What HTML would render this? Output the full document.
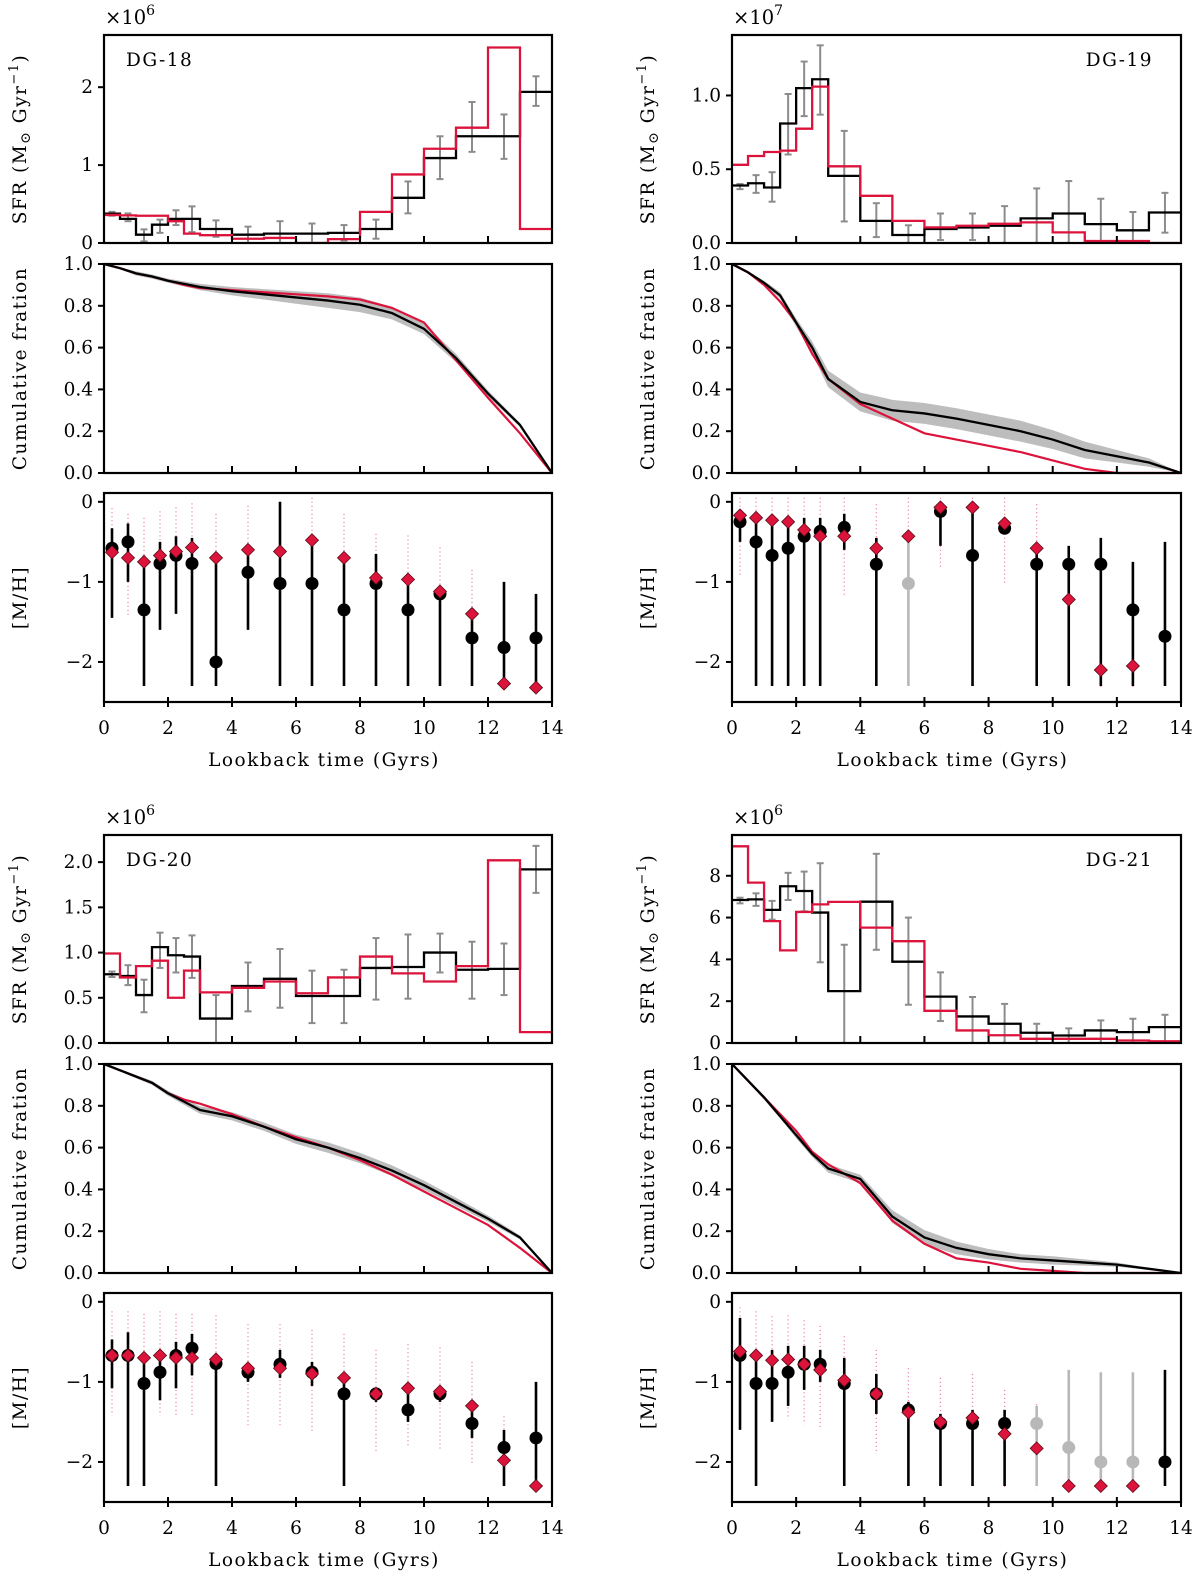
<!DOCTYPE html>
<html><head><meta charset="utf-8">
<style>
html,body{margin:0;padding:0;background:#fff;}
svg text{font-family:"DejaVu Serif","Liberation Serif",serif;fill:#000;}
.title{letter-spacing:1.5px;}
</style></head>
<body>
<svg id="fig" xmlns="http://www.w3.org/2000/svg" width="1200" height="1583" viewBox="0 0 1200 1583"></svg>
<script>
const EDGES = [0,0.5,1,1.5,2,2.5,3,4,5,6,7,8,9,10,11,12,13,14];
const CENTERS = [0.25,0.75,1.25,1.75,2.25,2.75,3.5,4.5,5.5,6.5,7.5,8.5,9.5,10.5,11.5,12.5,13.5];

// DG-18 (x1e6)
const dg18SfrBlack = [0.376,0.31,0.107,0.235,0.31,0.31,0.18,0.107,0.12,0.12,0.13,0.18,0.58,1.09,1.37,1.37,1.94];
const dg18SfrRed = [0.36,0.355,0.35,0.35,0.28,0.12,0.10,0.055,0.065,0.0,0.05,0.40,0.88,1.21,1.48,2.51,0.18];
const dg18ErrHi = [0.40,0.38,0.175,0.30,0.42,0.47,0.29,0.21,0.28,0.25,0.23,0.30,0.79,1.37,1.81,1.65,2.14];
const dg18ErrLo = [0.35,0.28,0.02,0.13,0.23,0.14,0.08,0.0,0.0,0.0,0.03,0.055,0.38,0.82,1.17,1.08,1.76];
const dg18CumBlack = [1,0.98,0.955,0.94,0.92,0.905,0.89,0.87,0.855,0.84,0.825,0.805,0.765,0.69,0.55,0.38,0.23,0];
const dg18CumRed = [1,0.98,0.955,0.94,0.92,0.90,0.885,0.875,0.865,0.855,0.845,0.83,0.79,0.72,0.54,0.36,0.19,0];
const dg18CumBand = [0,0.005,0.01,0.01,0.01,0.012,0.015,0.02,0.025,0.03,0.035,0.035,0.03,0.025,0.02,0.015,0.01,0];
const dg18MhBlack = [-0.58,-0.5,-1.35,-0.77,-0.67,-0.77,-2.0,-0.88,-1.02,-1.02,-1.35,-1.02,-1.35,-1.15,-1.7,-1.82,-1.7];
const dg18MhHi = [-0.33,-0.27,-0.67,-0.5,-0.43,-0.45,-0.75,-0.6,0.0,-0.5,-0.7,-0.65,-0.95,-1.1,-1.45,-1.0,-1.15];
const dg18MhLo = [-1.45,-1.0,-2.3,-1.6,-1.4,-2.3,-2.3,-1.6,-2.3,-2.3,-2.3,-2.3,-2.3,-2.3,-2.3,-2.3,-2.3];
const dg18MhRed = [-0.63,-0.7,-0.75,-0.67,-0.62,-0.57,-0.7,-0.6,-0.62,-0.48,-0.7,-0.95,-0.97,-1.12,-1.4,-2.27,-2.32];
const dg18MhGray = [0,0,0,0,0,0,0,0,0,0,0,0,0,0,0,0,0];

// DG-19 (x1e7)
const dg19SfrBlack = [0.39,0.405,0.376,0.81,1.05,1.11,0.455,0.15,0.054,0.095,0.105,0.117,0.167,0.20,0.128,0.086,0.207];
const dg19SfrRed = [0.53,0.59,0.617,0.626,0.775,1.06,0.52,0.32,0.15,0.106,0.117,0.13,0.14,0.072,0.013,0.013,0.0];
const dg19ErrHi = [0.40,0.46,0.48,1.01,1.23,1.34,0.76,0.27,0.12,0.20,0.20,0.25,0.37,0.42,0.30,0.21,0.34];
const dg19ErrLo = [0.365,0.34,0.28,0.60,0.86,0.87,0.146,0.04,0.0,0.02,0.02,0.0,0.0,0.0,0.0,0.0,0.07];
const dg19CumBlack = [1,0.96,0.91,0.85,0.72,0.60,0.45,0.34,0.30,0.285,0.26,0.23,0.20,0.16,0.11,0.08,0.05,0];
const dg19CumRed = [1,0.96,0.90,0.82,0.72,0.57,0.45,0.33,0.26,0.19,0.16,0.13,0.10,0.06,0.02,0,0,0];
const dg19CumBand = [0,0.005,0.01,0.015,0.02,0.03,0.04,0.045,0.05,0.05,0.05,0.05,0.05,0.045,0.04,0.03,0.02,0];
const dg19MhBlack = [-0.25,-0.5,-0.67,-0.58,-0.43,-0.37,-0.32,-0.78,-1.02,-0.12,-0.67,-0.33,-0.78,-0.78,-0.78,-1.35,-1.68];
const dg19MhHi = [-0.1,-0.2,-0.25,-0.2,-0.2,-0.2,-0.15,-0.45,-0.4,0.0,-0.1,-0.2,-0.55,-0.55,-0.45,-0.75,-0.5];
const dg19MhLo = [-0.5,-2.3,-2.3,-2.3,-2.3,-2.3,-0.6,-2.3,-2.3,-0.55,-2.3,-0.4,-2.3,-2.3,-2.3,-2.3,-2.3];
const dg19MhRed = [-0.17,-0.2,-0.23,-0.25,-0.35,-0.43,-0.43,-0.58,-0.43,-0.07,-0.07,-0.27,-0.58,-1.22,-2.1,-2.05,null];
const dg19MhGray = [0,0,0,0,0,0,0,0,1,0,0,0,0,0,0,0,0];

// DG-20 (x1e6)
const dg20SfrBlack = [0.76,0.74,0.53,1.06,0.97,0.956,0.27,0.63,0.71,0.52,0.52,0.83,0.84,1.0,0.81,0.82,1.92];
const dg20SfrRed = [0.99,0.725,0.85,0.91,0.50,0.80,0.56,0.61,0.68,0.55,0.725,0.956,0.77,0.68,0.85,2.02,0.12];
const dg20ErrHi = [0.79,0.86,0.70,1.22,1.16,1.19,0.53,0.89,1.04,0.80,0.81,1.16,1.20,1.21,1.12,1.10,2.18];
const dg20ErrLo = [0.73,0.64,0.34,0.83,0.78,0.72,0.0,0.35,0.39,0.22,0.22,0.48,0.49,0.78,0.49,0.53,1.66];
const dg20CumBlack = [1,0.97,0.94,0.91,0.86,0.82,0.78,0.75,0.70,0.64,0.60,0.55,0.49,0.42,0.34,0.26,0.17,0];
const dg20CumRed = [1,0.97,0.94,0.91,0.86,0.83,0.81,0.76,0.70,0.65,0.60,0.54,0.47,0.39,0.31,0.23,0.12,0];
const dg20CumBand = [0,0.005,0.008,0.01,0.012,0.015,0.018,0.02,0.02,0.022,0.025,0.025,0.025,0.022,0.02,0.015,0.01,0];
const dg20MhBlack = [-0.67,-0.67,-1.02,-0.88,-0.67,-0.58,-0.77,-0.88,-0.78,-0.88,-1.15,-1.15,-1.35,-1.15,-1.52,-1.82,-1.7];
const dg20MhHi = [-0.47,-0.38,-0.7,-0.7,-0.5,-0.4,-0.7,-0.8,-0.6,-0.75,-1.0,-1.1,-1.15,-1.1,-1.35,-1.6,-1.0];
const dg20MhLo = [-1.08,-2.3,-2.3,-1.23,-1.08,-0.92,-2.3,-1.0,-0.95,-1.05,-2.3,-1.25,-1.5,-1.25,-1.7,-2.3,-2.3];
const dg20MhRed = [-0.67,-0.67,-0.7,-0.67,-0.7,-0.7,-0.72,-0.83,-0.83,-0.9,-0.95,-1.15,-1.08,-1.12,-1.3,-1.98,-2.3];
const dg20MhGray = [0,0,0,0,0,0,0,0,0,0,0,0,0,0,0,0,0];

// DG-21 (x1e6)
const dg21SfrBlack = [6.84,6.87,6.37,7.5,7.27,6.24,2.48,6.76,3.89,2.22,1.27,0.92,0.49,0.36,0.6,0.52,0.76];
const dg21SfrRed = [9.41,7.67,5.83,4.43,6.27,6.63,6.75,5.52,4.87,1.54,0.6,0.37,0.2,0.2,0.2,0.12,0.08];
const dg21ErrHi = [6.95,7.16,6.8,8.14,8.2,8.6,4.7,9.05,6.0,3.38,2.2,1.87,0.92,0.7,1.08,1.16,1.35];
const dg21ErrLo = [6.68,6.56,5.9,6.84,6.3,3.86,0.0,4.46,1.83,1.05,0.0,0.0,0.0,0.0,0.0,0.0,0.0];
const dg21CumBlack = [1,0.92,0.84,0.75,0.66,0.57,0.50,0.45,0.27,0.17,0.12,0.09,0.07,0.06,0.05,0.04,0.02,0];
const dg21CumRed = [1,0.92,0.84,0.76,0.68,0.58,0.52,0.43,0.25,0.14,0.07,0.05,0.02,0.01,0,0,0,0];
const dg21CumBand = [0,0.005,0.01,0.01,0.015,0.015,0.02,0.02,0.03,0.035,0.03,0.025,0.02,0.02,0.015,0.01,0.005,0];
const dg21MhBlack = [-0.67,-1.02,-1.02,-0.88,-0.78,-0.78,-1.02,-1.15,-1.35,-1.52,-1.52,-1.52,-1.52,-1.82,-2.0,-2.0,-2.0];
const dg21MhHi = [-0.2,-0.6,-0.6,-0.55,-0.55,-0.6,-0.7,-0.9,-1.25,-1.4,-1.35,-1.35,-1.3,-0.85,-0.88,-0.88,-0.85];
const dg21MhLo = [-1.6,-2.3,-1.5,-1.3,-1.1,-1.0,-2.3,-1.4,-2.3,-2.3,-2.3,-2.3,-2.3,-2.3,-2.3,-2.3,-2.3];
const dg21MhRed = [-0.62,-0.67,-0.73,-0.72,-0.78,-0.85,-0.98,-1.15,-1.38,-1.5,-1.45,-1.65,-1.83,-2.3,-2.3,-2.3,null];
const dg21MhGray = [0,0,0,0,0,0,0,0,0,0,0,0,1,1,1,1,0];

const SFR_TICKS_18 = [0,1,2], SFR_LABELS_18 = ["0","1","2"];
const SFR_TICKS_19 = [0,0.5,1.0], SFR_LABELS_19 = ["0.0","0.5","1.0"];
const SFR_TICKS_20 = [0,0.5,1,1.5,2], SFR_LABELS_20 = ["0.0","0.5","1.0","1.5","2.0"];
const SFR_TICKS_21 = [0,2,4,6,8], SFR_LABELS_21 = ["0","2","4","6","8"];
const CUM_TICKS = [0,0.2,0.4,0.6,0.8,1.0], CUM_LABELS = ["0.0","0.2","0.4","0.6","0.8","1.0"];
const MH_TICKS = [0,-1,-2], MH_LABELS = ["0","−1","−2"];
const X_TICKS = [0,2,4,6,8,10,12,14], X_LABELS = ["0","2","4","6","8","10","12","14"];

const NS = "http://www.w3.org/2000/svg";
const svg = document.getElementById('fig');
const RED = "#dc143c";
const FS = 18.5;
function mk(tag, attrs, parent, text){
  const e = document.createElementNS(NS, tag);
  for (const k in attrs) e.setAttribute(k, attrs[k]);
  if (text !== undefined) e.textContent = text;
  (parent || svg).appendChild(e);
  return e;
}

const galaxies = [
  {id:"dg-18", name:"DG-18", col:0, row:0, exp:"6", sfrMax:2.67, sfrT:SFR_TICKS_18, sfrL:SFR_LABELS_18, left:true,
   sb:dg18SfrBlack, sr:dg18SfrRed, eh:dg18ErrHi, el:dg18ErrLo, cb:dg18CumBlack, cr:dg18CumRed, cw:dg18CumBand,
   mb:dg18MhBlack, mh:dg18MhHi, ml:dg18MhLo, mr:dg18MhRed, mg:dg18MhGray},
  {id:"dg-19", name:"DG-19", col:1, row:0, exp:"7", sfrMax:1.41, sfrT:SFR_TICKS_19, sfrL:SFR_LABELS_19, left:false,
   sb:dg19SfrBlack, sr:dg19SfrRed, eh:dg19ErrHi, el:dg19ErrLo, cb:dg19CumBlack, cr:dg19CumRed, cw:dg19CumBand,
   mb:dg19MhBlack, mh:dg19MhHi, ml:dg19MhLo, mr:dg19MhRed, mg:dg19MhGray},
  {id:"dg-20", name:"DG-20", col:0, row:1, exp:"6", sfrMax:2.30, sfrT:SFR_TICKS_20, sfrL:SFR_LABELS_20, left:true,
   sb:dg20SfrBlack, sr:dg20SfrRed, eh:dg20ErrHi, el:dg20ErrLo, cb:dg20CumBlack, cr:dg20CumRed, cw:dg20CumBand,
   mb:dg20MhBlack, mh:dg20MhHi, ml:dg20MhLo, mr:dg20MhRed, mg:dg20MhGray},
  {id:"dg-21", name:"DG-21", col:1, row:1, exp:"6", sfrMax:9.95, sfrT:SFR_TICKS_21, sfrL:SFR_LABELS_21, left:false,
   sb:dg21SfrBlack, sr:dg21SfrRed, eh:dg21ErrHi, el:dg21ErrLo, cb:dg21CumBlack, cr:dg21CumRed, cw:dg21CumBand,
   mb:dg21MhBlack, mh:dg21MhHi, ml:dg21MhLo, mr:dg21MhRed, mg:dg21MhGray}
];

function drawAxesBox(g, x0, x1, y0, y1){
  mk('rect', {x:x0, y:y0, width:x1-x0, height:y1-y0, fill:'none', stroke:'#000', 'stroke-width':2.2}, g);
}

galaxies.forEach(G => {
  const x0 = G.col ? 732 : 104, x1 = G.col ? 1181 : 552;
  const oy = G.row ? 800 : 0;
  const P = { sfr:[35+oy, 243+oy], cum:[264+oy, 473+oy], mh:[493+oy, 702+oy] };
  const X = t => x0 + (x1-x0)*t/14;
  const grp = mk('g', {});
  
  
  const ylab1x = x0 - 78;

  // ---------- SFR panel ----------
  const Ys = v => P.sfr[1] - (P.sfr[1]-P.sfr[0]) * v / G.sfrMax;
  const gs = mk('g', {}, grp);
  
  
  const clipId = G.id + '-clip-sfr';
  const cp = mk('clipPath', {id:clipId}, gs);
  mk('rect', {x:x0, y:P.sfr[0], width:x1-x0, height:P.sfr[1]-P.sfr[0]}, cp);
  const cg = mk('g', {'clip-path':'url(#'+clipId+')'}, gs);
  CENTERS.forEach((c,i) => {
    const e = mk('g', {}, cg);
    
    
    const xa = X(c), ya = Ys(G.eh[i]), yb = Ys(G.el[i]);
    mk('line', {x1:xa, x2:xa, y1:ya, y2:yb, stroke:'#8c8c8c', 'stroke-width':2}, e);
    mk('line', {x1:xa-3.5, x2:xa+3.5, y1:ya, y2:ya, stroke:'#8c8c8c', 'stroke-width':2}, e);
    mk('line', {x1:xa-3.5, x2:xa+3.5, y1:yb, y2:yb, stroke:'#8c8c8c', 'stroke-width':2}, e);
  });
  function stepPath(vals){
    let d = '';
    vals.forEach((v,i) => {
      const xa = X(EDGES[i]), xb = X(EDGES[i+1]), y = Ys(v);
      d += (i===0 ? 'M' : 'L') + xa + ',' + y + ' L' + xb + ',' + y + ' ';
    });
    return d;
  }
  const sb = mk('path', {d:stepPath(G.sb), fill:'none', stroke:'#000', 'stroke-width':2.3}, cg);
  
  
  const sr = mk('path', {d:stepPath(G.sr), fill:'none', stroke:RED, 'stroke-width':2.3}, cg);
  
  
  drawAxesBox(gs, x0, x1, P.sfr[0], P.sfr[1]);
  G.sfrT.forEach((t,i) => {
    const y = Ys(t);
    mk('line', {x1:x0-6, x2:x0, y1:y, y2:y, stroke:'#000', 'stroke-width':2}, gs);
    const tl = mk('text', {x:x0-11, y:y+6, 'font-size':FS, 'text-anchor':'end'}, gs, G.sfrL[i]);
    
    
  });
  X_TICKS.forEach(t => mk('line', {x1:X(t), x2:X(t), y1:P.sfr[1]-7, y2:P.sfr[1], stroke:'#000', 'stroke-width':2}, gs));
  const mult = mk('text', {x:x0+1, y:P.sfr[0]-11, 'font-size':19.5}, gs);
  
  
  mult.appendChild(document.createTextNode('×10'));
  mk('tspan', {dy:-9, 'font-size':14}, mult, G.exp);
  const nm = mk('text', G.left ? {x:x0+22, y:P.sfr[0]+31, 'font-size':FS, class:'title'} : {x:x1-28, y:P.sfr[0]+31, 'font-size':FS, 'text-anchor':'end', class:'title'}, gs, G.name);
  
  
  const ylab1y = (P.sfr[0]+P.sfr[1])/2;
  const yl1 = mk('text', {x:ylab1x, y:ylab1y, 'font-size':FS, 'text-anchor':'middle', class:'title', transform:'rotate(-90 '+ylab1x+' '+ylab1y+')'}, gs);
  
  
  yl1.appendChild(document.createTextNode('SFR (M'));
  mk('tspan', {dy:4, 'font-size':14}, yl1, '⊙');
  mk('tspan', {dy:-4}, yl1, ' Gyr');
  mk('tspan', {dy:-8, 'font-size':13}, yl1, '−1');
  mk('tspan', {dy:8}, yl1, ')');

  // ---------- Cumulative panel ----------
  const Yc = v => P.cum[1] - (P.cum[1]-P.cum[0]) * v;
  const gc = mk('g', {}, grp);
  
  
  let up = '', dn = '';
  EDGES.forEach((t,i) => {
    up += (i? 'L':'M') + X(t) + ',' + Yc(Math.min(1, G.cb[i] + G.cw[i])) + ' ';
  });
  for (let i = EDGES.length-1; i >= 0; i--) dn += 'L' + X(EDGES[i]) + ',' + Yc(Math.max(0, G.cb[i] - G.cw[i])) + ' ';
  const band = mk('path', {d:up+dn+'Z', fill:'#bdbdbd', stroke:'none'}, gc);
  
  
  const linePath = vals => EDGES.map((t,i) => (i?'L':'M') + X(t) + ',' + Yc(vals[i])).join(' ');
  const lr = mk('path', {d:linePath(G.cr), fill:'none', stroke:RED, 'stroke-width':2.2}, gc);
  
  
  const lb = mk('path', {d:linePath(G.cb), fill:'none', stroke:'#000', 'stroke-width':2.3}, gc);
  
  
  drawAxesBox(gc, x0, x1, P.cum[0], P.cum[1]);
  CUM_TICKS.forEach((t,i) => {
    const y = Yc(t);
    mk('line', {x1:x0-6, x2:x0, y1:y, y2:y, stroke:'#000', 'stroke-width':2}, gc);
    const tl = mk('text', {x:x0-11, y:y+6, 'font-size':FS, 'text-anchor':'end'}, gc, CUM_LABELS[i]);
    
    
  });
  X_TICKS.forEach(t => mk('line', {x1:X(t), x2:X(t), y1:P.cum[1]-7, y2:P.cum[1], stroke:'#000', 'stroke-width':2}, gc));
  const ylab2y = (P.cum[0]+P.cum[1])/2;
  const yl2 = mk('text', {x:ylab1x, y:ylab2y, 'font-size':FS, 'text-anchor':'middle', class:'title', transform:'rotate(-90 '+ylab1x+' '+ylab2y+')'}, gc, 'Cumulative fration');
  
  

  // ---------- [M/H] panel ----------
  const MH_MAX = 0.11, MH_MIN = -2.5;
  const Ym = v => P.mh[0] + (P.mh[1]-P.mh[0]) * (MH_MAX - v) / (MH_MAX - MH_MIN);
  const gm = mk('g', {}, grp);
  
  
  CENTERS.forEach((c,i) => {
    if (G.mr[i] === null) return;
    const lo = Math.max(-2.33, G.mr[i] - 0.75), hi = Math.min(0.05, G.mr[i] + 0.55);
    const s = mk('line', {x1:X(c), x2:X(c), y1:Ym(hi), y2:Ym(lo), stroke:RED, 'stroke-width':1.2, 'stroke-dasharray':'1 3', opacity:0.6}, gm);
    
    
  });
  CENTERS.forEach((c,i) => {
    const col = G.mg[i] ? '#b8b8b8' : '#000';
    const e = mk('line', {x1:X(c), x2:X(c), y1:Ym(G.mh[i]), y2:Ym(G.ml[i]), stroke:col, 'stroke-width':2.6}, gm);
    
    
    const d = mk('circle', {cx:X(c), cy:Ym(G.mb[i]), r:6.5, fill:col}, gm);
    
    
  });
  CENTERS.forEach((c,i) => {
    if (G.mr[i] === null) return;
    const xa = X(c), ya = Ym(G.mr[i]), r = 6.5;
    const dm = mk('polygon', {points:`${xa},${ya-r} ${xa+r},${ya} ${xa},${ya+r} ${xa-r},${ya}`, fill:RED, stroke:'#5a0a14', 'stroke-width':0.8}, gm);
    
    
  });
  drawAxesBox(gm, x0, x1, P.mh[0], P.mh[1]);
  MH_TICKS.forEach((t,i) => {
    const y = Ym(t);
    mk('line', {x1:x0-6, x2:x0, y1:y, y2:y, stroke:'#000', 'stroke-width':2}, gm);
    const tl = mk('text', {x:x0-11, y:y+6, 'font-size':FS, 'text-anchor':'end'}, gm, MH_LABELS[i]);
    
    
  });
  X_TICKS.forEach((t,i) => {
    mk('line', {x1:X(t), x2:X(t), y1:P.mh[1]-5, y2:P.mh[1]+5, stroke:'#000', 'stroke-width':2}, gm);
    const tl = mk('text', {x:X(t), y:P.mh[1]+32, 'font-size':FS, 'text-anchor':'middle'}, gm, X_LABELS[i]);
    
    
  });
  const ylab3y = (P.mh[0]+P.mh[1])/2;
  const yl3 = mk('text', {x:ylab1x, y:ylab3y, 'font-size':FS, 'text-anchor':'middle', class:'title', transform:'rotate(-90 '+ylab1x+' '+ylab3y+')'}, gm, '[M/H]');
  
  
  const xl = mk('text', {x:(x0+x1)/2 - 4, y:P.mh[1]+64, 'font-size':FS, 'text-anchor':'middle', class:'title'}, gm, 'Lookback time (Gyrs)');
  
  
});
</script>
</body></html>
